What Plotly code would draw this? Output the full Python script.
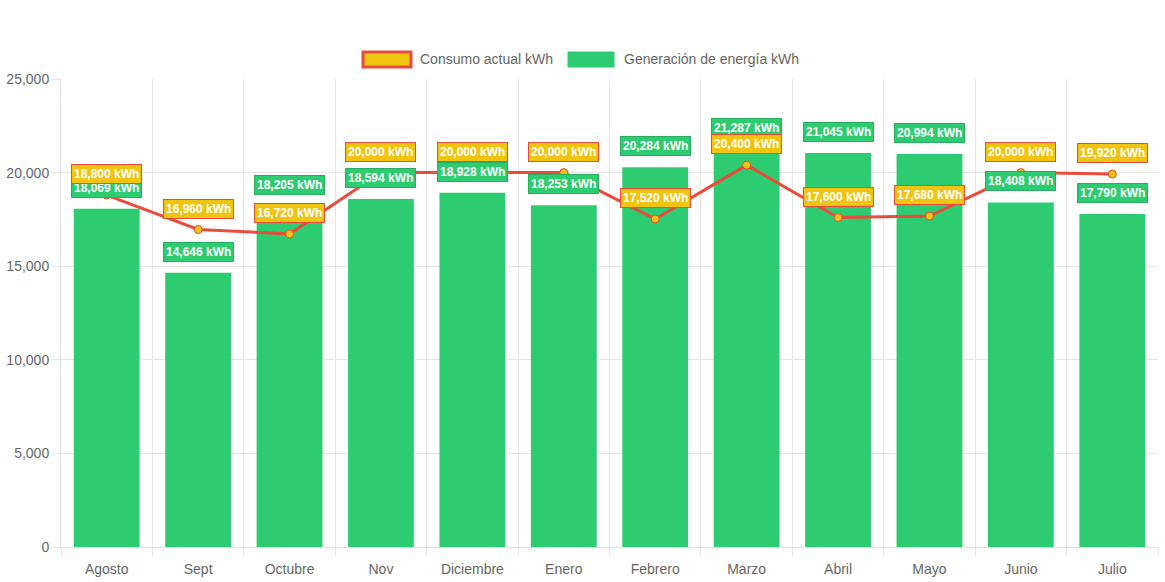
import plotly.graph_objects as go

months = ["Agosto", "Sept", "Octubre", "Nov", "Diciembre", "Enero", "Febrero",
          "Marzo", "Abril", "Mayo", "Junio", "Julio"]
consumo = [18800, 16960, 16720, 20000, 20000, 20000, 17520, 20400, 17600, 17680, 20000, 19920]
generacion = [18069, 14646, 18205, 18594, 18928, 18253, 20284, 21287, 21045, 20994, 18408, 17790]
y_ticks = [0, 5000, 10000, 15000, 20000, 25000]

RED = "#e74c3c"
YELLOW = "#f1c40f"
GREEN = "#2ecc71"
GREEN_DARK = "#27ae60"
FONT = "Liberation Sans, Arial, sans-serif"

xs = list(range(len(months)))

fig = go.Figure()
fig.add_trace(go.Bar(
    x=xs, y=generacion, width=0.72, marker=dict(color=GREEN, line=dict(width=0)),
    name="Generación de energía kWh", showlegend=False, hoverinfo="y"))
fig.add_trace(go.Scatter(
    x=xs, y=consumo, mode="lines+markers", name="Consumo actual kWh",
    line=dict(color=RED, width=3),
    marker=dict(color=YELLOW, size=8, line=dict(color=RED, width=1)),
    showlegend=False))

ann = []
for i, v in enumerate(generacion):
    ann.append(dict(x=i, y=v, xref="x", yref="y", text=f"<b>{v:,} kWh</b>",
                    showarrow=False, yanchor="middle", yshift=21,
                    font=dict(family=FONT, size=12, color="white"),
                    bgcolor=GREEN, bordercolor=GREEN_DARK, borderwidth=1, borderpad=2))
for i, v in enumerate(consumo):
    ann.append(dict(x=i, y=v, xref="x", yref="y", text=f"<b>{v:,} kWh</b>",
                    showarrow=False, yanchor="middle", yshift=21,
                    font=dict(family=FONT, size=12, color="white"),
                    bgcolor=YELLOW, bordercolor=RED, borderwidth=1, borderpad=2))

W, H = 1165, 582
L, R, T, B = 61, 7, 79, 35
pw, ph = W - L - R, H - T - B

def px_x(p):
    return (p - L) / pw

def px_y(p):
    return (H - B - p) / ph

ann.append(dict(x=px_x(418), y=px_y(59), xref="paper", yref="paper", text="Consumo actual kWh",
                showarrow=False, xanchor="left", yanchor="middle",
                font=dict(family=FONT, size=14, color="#666")))
ann.append(dict(x=px_x(622), y=px_y(59), xref="paper", yref="paper", text="Generación de energía kWh",
                showarrow=False, xanchor="left", yanchor="middle",
                font=dict(family=FONT, size=14, color="#666")))

shapes = [
    dict(type="rect", xref="paper", yref="paper", x0=px_x(363), x1=px_x(411),
         y0=px_y(67), y1=px_y(52), fillcolor=YELLOW, line=dict(color=RED, width=3)),
    dict(type="rect", xref="paper", yref="paper", x0=px_x(568), x1=px_x(614),
         y0=px_y(67), y1=px_y(52), fillcolor=GREEN, line=dict(color=GREEN, width=1)),
]

fig.update_layout(
    width=W, height=H,
    margin=dict(l=L, r=R, t=T, b=B),
    plot_bgcolor="white", paper_bgcolor="white",
    showlegend=False,
    annotations=ann, shapes=shapes,
    font=dict(family=FONT, color="#666", size=14),
    xaxis=dict(range=[-0.5, len(months) - 0.5], tickmode="array", tickvals=xs,
               ticktext=months, showgrid=False, zeroline=False,
               showline=True, linecolor="#ddd", ticks="", automargin=False,
               ticklabelstandoff=9,
               tickfont=dict(family=FONT, size=14, color="#666"),
               minor=dict(tick0=-0.5, dtick=1, showgrid=True, gridcolor="#e5e5e5",
                          ticks="outside", ticklen=8, tickcolor="#e5e5e5")),
    yaxis=dict(range=[0, 25000], tickmode="array", tickvals=y_ticks,
               ticktext=[f"{t:,}" for t in y_ticks], showgrid=True, gridcolor="#e5e5e5",
               zeroline=False, showline=True, linecolor="#ddd", automargin=False,
               ticks="outside", ticklen=8, tickcolor="#e5e5e5",
               tickfont=dict(family=FONT, size=14, color="#666")),
)

fig.write_html("out.html", config={"displayModeBar": False},
               post_script="document.body.style.margin='0';")
